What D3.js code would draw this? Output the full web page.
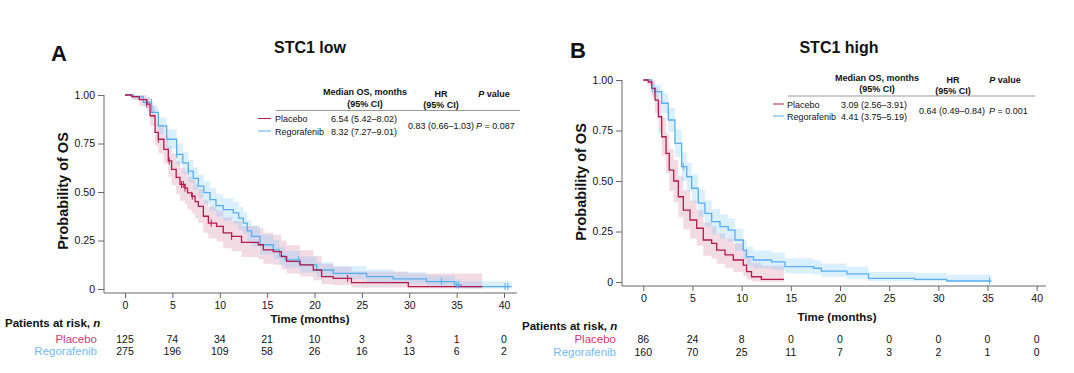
<!DOCTYPE html>
<html>
<head>
<meta charset="utf-8">
<script src="https://cdn.jsdelivr.net/npm/d3@7"></script>
<style>
  body { margin: 0; background: #fff; }
  svg { font-family: "Liberation Sans", Arial, Helvetica, sans-serif; }
</style>
</head>
<body>
<svg id="chart" width="1074" height="373"></svg>
<script>
// ---- data: [time, survival, lowerCI, upperCI] (step after) ----
var placeboLow = [
  [0, 1, 1, 1], [0.7, 0.992, 0.976, 1], [1.5, 0.976, 0.945, 1], [2.3, 0.953, 0.915, 0.99],
  [2.64, 0.893, 0.84, 0.946], [3.17, 0.807, 0.74, 0.875], [3.52, 0.772, 0.70, 0.845],
  [4.1, 0.72, 0.645, 0.795], [4.57, 0.66, 0.58, 0.74], [4.92, 0.617, 0.535, 0.70],
  [5.4, 0.575, 0.49, 0.66], [5.8, 0.539, 0.455, 0.625], [6.33, 0.52, 0.435, 0.605],
  [6.6, 0.495, 0.41, 0.58], [7.04, 0.478, 0.39, 0.565], [7.4, 0.45, 0.365, 0.54],
  [7.74, 0.426, 0.34, 0.515], [8.27, 0.375, 0.29, 0.46], [8.8, 0.34, 0.26, 0.425],
  [9.67, 0.323, 0.245, 0.405], [10.37, 0.289, 0.21, 0.37], [11.25, 0.271, 0.195, 0.35],
  [12.3, 0.24, 0.165, 0.325], [14.07, 0.228, 0.155, 0.315], [14.6, 0.202, 0.13, 0.29],
  [15.65, 0.193, 0.125, 0.28], [16.5, 0.167, 0.1, 0.25], [17.06, 0.142, 0.08, 0.225],
  [18.47, 0.124, 0.065, 0.2], [19.87, 0.098, 0.045, 0.17], [20.75, 0.064, 0.025, 0.13],
  [21.98, 0.055, 0.02, 0.115], [23.9, 0.033, 0.008, 0.09], [29.9, 0.012, 0.002, 0.08],
  [37.7, 0.012, 0.002, 0.08]
];
var regoLow = [
  [0, 1, 1, 1], [0.9, 0.99, 0.978, 1], [1.93, 0.962, 0.94, 0.984], [2.81, 0.91, 0.876, 0.944],
  [3.52, 0.841, 0.798, 0.884], [4.4, 0.772, 0.722, 0.822], [5.45, 0.694, 0.64, 0.748],
  [6.1, 0.65, 0.594, 0.706], [6.68, 0.608, 0.55, 0.666], [7.2, 0.57, 0.512, 0.628],
  [7.74, 0.53, 0.471, 0.589], [8.32, 0.497, 0.438, 0.556], [8.97, 0.461, 0.402, 0.52],
  [9.6, 0.43, 0.372, 0.49], [10.37, 0.409, 0.35, 0.468], [11.43, 0.392, 0.334, 0.45],
  [12.0, 0.365, 0.307, 0.423], [12.49, 0.34, 0.283, 0.397], [12.9, 0.3, 0.245, 0.355],
  [13.37, 0.271, 0.218, 0.325], [14.25, 0.228, 0.178, 0.28], [15.65, 0.202, 0.155, 0.252],
  [16.3, 0.17, 0.125, 0.218], [16.9, 0.15, 0.108, 0.196], [18.47, 0.124, 0.085, 0.168],
  [20.23, 0.098, 0.063, 0.138], [21.98, 0.081, 0.05, 0.118], [25.5, 0.064, 0.036, 0.1],
  [28.3, 0.052, 0.027, 0.086], [31.8, 0.038, 0.017, 0.07], [34.8, 0.021, 0.006, 0.05],
  [35.5, 0.012, 0.002, 0.04], [40.8, 0.012, 0.002, 0.04]
];
var placeboHigh = [
  [0, 1, 1, 1], [0.5, 0.99, 0.97, 1], [0.85, 0.959, 0.915, 1], [1.19, 0.9, 0.835, 0.965],
  [1.53, 0.818, 0.737, 0.9], [1.87, 0.719, 0.625, 0.813], [2.31, 0.637, 0.537, 0.737],
  [2.64, 0.554, 0.45, 0.658], [3.09, 0.5, 0.395, 0.605], [3.56, 0.422, 0.32, 0.524],
  [4.07, 0.356, 0.26, 0.455], [4.75, 0.307, 0.215, 0.402], [5.43, 0.266, 0.18, 0.356],
  [6.1, 0.208, 0.13, 0.295], [6.95, 0.191, 0.115, 0.276], [7.46, 0.158, 0.09, 0.24],
  [8.31, 0.134, 0.07, 0.215], [9.15, 0.109, 0.05, 0.19], [10.17, 0.084, 0.03, 0.16],
  [10.5, 0.051, 0.012, 0.125], [11.0, 0.026, 0.003, 0.095], [12.0, 0.013, 0.001, 0.08],
  [14.3, 0.013, 0.001, 0.08]
];
var regoHigh = [
  [0, 1, 1, 1], [0.85, 0.959, 0.928, 0.99], [1.19, 0.942, 0.905, 0.978], [1.87, 0.885, 0.836, 0.934],
  [2.54, 0.802, 0.742, 0.862], [3.22, 0.686, 0.617, 0.755], [3.9, 0.571, 0.5, 0.642],
  [4.41, 0.521, 0.45, 0.592], [4.92, 0.464, 0.394, 0.534], [5.59, 0.39, 0.322, 0.458],
  [6.27, 0.34, 0.275, 0.405], [6.95, 0.299, 0.237, 0.361], [7.8, 0.274, 0.214, 0.334],
  [8.64, 0.257, 0.198, 0.316], [9.32, 0.208, 0.155, 0.264], [10.17, 0.158, 0.11, 0.21],
  [10.5, 0.125, 0.082, 0.175], [11.2, 0.109, 0.068, 0.156], [13.05, 0.1, 0.061, 0.146],
  [14.4, 0.076, 0.042, 0.118], [17.3, 0.068, 0.036, 0.108], [18.1, 0.054, 0.026, 0.092],
  [20.7, 0.04, 0.016, 0.075], [22.9, 0.018, 0.004, 0.05], [27.6, 0.013, 0.002, 0.045],
  [30.85, 0.005, 0, 0.035], [35.4, 0.005, 0, 0.035]
];

// censored observations (months)
var censorPlaceboLow = [2.3, 3.52, 4.67, 5.97, 6.15, 6.33, 7.1, 9.1, 11.25, 23.5];
var censorRegoLow = [2.8, 5.45, 6.68, 18.3, 33.4, 35.0, 35.2, 40.1, 40.4];
var censorPlaceboHigh = [];
var censorRegoHigh = [0.9, 4.07, 35.2];

// patients at risk
var riskPlaceboLow = [125, 74, 34, 21, 10, 3, 3, 1, 0];
var riskRegoLow = [275, 196, 109, 58, 26, 16, 13, 6, 2];
var riskPlaceboHigh = [86, 24, 8, 0, 0, 0, 0, 0, 0];
var riskRegoHigh = [160, 70, 25, 11, 7, 3, 2, 1, 0];

var xTicks = [0, 5, 10, 15, 20, 25, 30, 35, 40];
var yTicks = [0, 0.25, 0.5, 0.75, 1];
var yTickLabels = ['0', '0.25', '0.50', '0.75', '1.00'];
var groups = ['Placebo', 'Regorafenib'];

var placeboColor = '#b5194d', regoColor = '#58aef0';
var placeboText = '#cc3a72', regoText = '#74baf5';
var placeboBand = 'rgba(200, 90, 130, 0.22)', regoBand = 'rgba(115, 198, 250, 0.26)';
var axisColor = '#666';

var svg = d3.select('#chart');

function survivalAt(data, t) {
  var s = 1;
  data.forEach(function (d) { if (d[0] <= t) { s = d[1]; } });
  return s;
}

function drawPanel(p) {
  var g = svg.append('g');
  var x = d3.scaleLinear().domain([0, 40]).range(p.xRange);
  var y = d3.scaleLinear().domain([0, 1]).range(p.yRange);

  var area = d3.area().curve(d3.curveStepAfter)
    .x(function (d) { return x(d[0]); })
    .y0(function (d) { return y(d[2]); })
    .y1(function (d) { return y(d[3]); });
  var line = d3.line().curve(d3.curveStepAfter)
    .x(function (d) { return x(d[0]); })
    .y(function (d) { return y(d[1]); });

  // confidence bands
  g.append('path').attr('d', area(p.placebo)).attr('fill', placeboBand);
  g.append('path').attr('d', area(p.rego)).attr('fill', regoBand);

  // axes
  var yAxis = g.append('g')
    .attr('transform', 'translate(' + p.yAxisX + ',0)')
    .call(d3.axisLeft(y).tickValues(yTicks).tickSize(6)
      .tickFormat(function (d, i) { return yTickLabels[i]; }));
  var xAxis = g.append('g')
    .attr('transform', 'translate(0,' + p.xAxisY + ')')
    .call(d3.axisBottom(x).tickValues(xTicks).tickSize(5).tickPadding(4));
  [yAxis, xAxis].forEach(function (a) {
    a.select('.domain').remove();
    a.selectAll('line').attr('stroke', axisColor);
    a.selectAll('text').attr('fill', '#111').style('font-size', '10.5px')
      .style('font-family', '"Liberation Sans", Arial, sans-serif');
  });
  g.append('line').attr('x1', p.yAxisX).attr('x2', p.yAxisX)
    .attr('y1', y(1)).attr('y2', p.xAxisY).attr('stroke', axisColor);
  g.append('line').attr('x1', p.yAxisX).attr('x2', p.xAxisEnd)
    .attr('y1', p.xAxisY).attr('y2', p.xAxisY).attr('stroke', axisColor);

  // curves
  g.append('path').attr('d', line(p.rego)).attr('fill', 'none')
    .attr('stroke', regoColor).attr('stroke-width', 1.3);
  g.append('path').attr('d', line(p.placebo)).attr('fill', 'none')
    .attr('stroke', placeboColor).attr('stroke-width', 1.3);

  // censor marks
  [[p.censorRego, p.rego, regoColor], [p.censorPlacebo, p.placebo, placeboColor]].forEach(function (c) {
    g.selectAll(null).data(c[0]).enter().append('line')
      .attr('x1', function (t) { return x(t); })
      .attr('x2', function (t) { return x(t); })
      .attr('y1', function (t) { return y(survivalAt(c[1], t)) - 3.5; })
      .attr('y2', function (t) { return y(survivalAt(c[1], t)) + 3.5; })
      .attr('stroke', c[2]).attr('stroke-width', 1);
  });

  // titles
  g.append('text').attr('x', p.letterX).attr('y', p.letterY).text(p.letter)
    .style('font-size', '22px').style('font-weight', 'bold').attr('fill', '#111');
  g.append('text').attr('x', p.titleX).attr('y', 52.5).attr('text-anchor', 'middle')
    .text(p.title).style('font-size', '16px').style('font-weight', 'bold').attr('fill', '#111');
  g.append('text')
    .attr('transform', 'translate(' + p.yTitleX + ',' + p.yTitleY + ') rotate(-90)')
    .attr('text-anchor', 'middle').text('Probability of OS')
    .style('font-size', '14.5px').style('font-weight', 'bold').attr('fill', '#111');
  g.append('text').attr('x', p.xTitleX).attr('y', p.xTitleY).attr('text-anchor', 'middle')
    .text('Time (months)').style('font-size', '11.5px').style('font-weight', 'bold').attr('fill', '#111');

  // risk table
  var rt = g.append('text').attr('x', p.riskX).attr('y', p.riskY[0])
    .style('font-size', '11.5px').style('font-weight', 'bold').attr('fill', '#111');
  rt.append('tspan').text('Patients at risk, ');
  rt.append('tspan').text('n').style('font-style', 'italic');
  [[p.riskPlacebo, placeboText], [p.riskRego, regoText]].forEach(function (r, i) {
    g.append('text').attr('x', p.riskLabelX).attr('y', p.riskY[i + 1]).attr('text-anchor', 'end')
      .text(groups[i]).style('font-size', '11.5px').attr('fill', r[1]);
    g.selectAll(null).data(r[0]).enter().append('text')
      .attr('x', function (d, j) { return x(xTicks[j]); })
      .attr('y', p.riskY[i + 1]).attr('text-anchor', 'middle')
      .text(function (d) { return d; }).style('font-size', '10.5px').attr('fill', '#111');
  });

  // legend / summary table
  var L = p.legend;
  function txt(xx, yy, s, anchor, bold) {
    return g.append('text').attr('x', xx).attr('y', yy).attr('text-anchor', anchor || 'start')
      .text(s).style('font-size', '9px').style('font-weight', bold ? 'bold' : 'normal').attr('fill', '#111');
  }
  txt(L.medX, L.h1, 'Median OS, months', 'middle', true);
  txt(L.medX, L.h1 + 11.5, '(95% CI)', 'middle', true);
  txt(L.hrX, L.h2, 'HR', 'middle', true);
  txt(L.hrX, L.h2 + 11.5, '(95% CI)', 'middle', true);
  var pv = g.append('text').attr('x', L.pX).attr('y', L.h2).attr('text-anchor', 'middle')
    .style('font-size', '9px').style('font-weight', 'bold').attr('fill', '#111');
  pv.append('tspan').text('P').style('font-style', 'italic');
  pv.append('tspan').text(' value');
  g.append('line').attr('x1', L.ruleX[0]).attr('x2', L.ruleX[1])
    .attr('y1', L.ruleY).attr('y2', L.ruleY).attr('stroke', '#999').attr('stroke-width', 1);
  [placeboColor, regoColor].forEach(function (c, i) {
    var yy = L.rowY[i];
    g.append('line').attr('x1', L.sampleX[0]).attr('x2', L.sampleX[1])
      .attr('y1', yy - 3.5).attr('y2', yy - 3.5).attr('stroke', c).attr('stroke-width', 1);
    txt(L.nameX, yy, groups[i]);
    txt(L.valX, yy, L.medians[i]);
  });
  txt(L.hrValX, L.midY, L.hr);
  var pp = g.append('text').attr('x', L.pValX).attr('y', L.midY)
    .style('font-size', '9px').attr('fill', '#111');
  pp.append('tspan').text('P').style('font-style', 'italic');
  pp.append('tspan').text(' = ' + L.p);
}

drawPanel({
  letter: 'A', letterX: 51, letterY: 61, title: 'STC1 low', titleX: 310,
  placebo: placeboLow, rego: regoLow,
  censorPlacebo: censorPlaceboLow, censorRego: censorRegoLow,
  riskPlacebo: riskPlaceboLow, riskRego: riskRegoLow,
  xRange: [125, 504], yRange: [289, 95],
  yAxisX: 104, xAxisY: 293, xAxisEnd: 517,
  yTitleX: 68, yTitleY: 191, xTitleX: 310, xTitleY: 323,
  riskX: 5, riskLabelX: 97, riskY: [327, 342.5, 355],
  legend: {
    medX: 365, hrX: 441, pX: 494, h1: 95, h2: 96.5,
    ruleX: [276, 520], ruleY: 110.5, rowY: [122, 134.5], midY: 128.5,
    sampleX: [258, 271], nameX: 275, valX: 331, hrValX: 408, pValX: 476,
    medians: ['6.54 (5.42\u20138.02)', '8.32 (7.27\u20139.01)'],
    hr: '0.83 (0.66\u20131.03)', p: '0.087'
  }
});

drawPanel({
  letter: 'B', letterX: 570, letterY: 58, title: 'STC1 high', titleX: 839,
  placebo: placeboHigh, rego: regoHigh,
  censorPlacebo: censorPlaceboHigh, censorRego: censorRegoHigh,
  riskPlacebo: riskPlaceboHigh, riskRego: riskRegoHigh,
  xRange: [643.3, 1036.7], yRange: [282, 80],
  yAxisX: 622, xAxisY: 286, xAxisEnd: 1046,
  yTitleX: 586, yTitleY: 182, xTitleX: 837, xTitleY: 321,
  riskX: 522, riskLabelX: 616, riskY: [330, 343, 356],
  legend: {
    medX: 877, hrX: 953, pX: 1005, h1: 80.5, h2: 82.5,
    ruleX: [788, 1035], ruleY: 96, rowY: [107.5, 119.5], midY: 113.5,
    sampleX: [773, 784], nameX: 787, valX: 841, hrValX: 919, pValX: 989,
    medians: ['3.09 (2.56\u20133.91)', '4.41 (3.75\u20135.19)'],
    hr: '0.64 (0.49\u20130.84)', p: '0.001'
  }
});
</script>
</body>
</html>
